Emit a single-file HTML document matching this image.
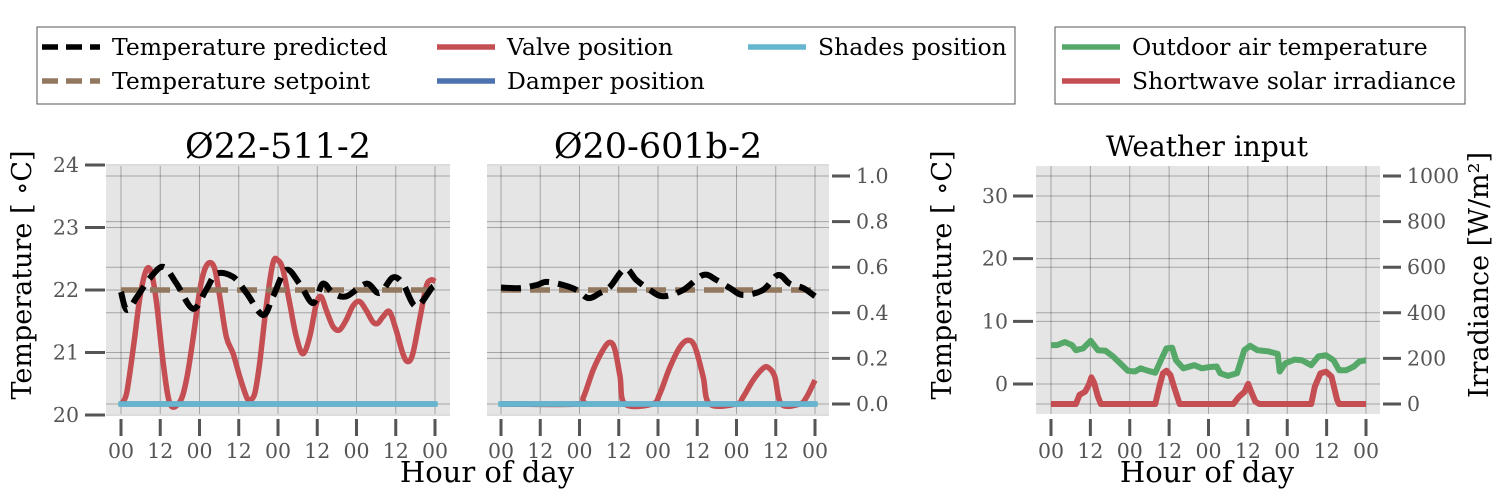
<!DOCTYPE html>
<html><head><meta charset="utf-8"><style>
html,body{margin:0;padding:0;background:#fff;}
svg{display:block;font-family:"DejaVu Serif","Liberation Serif",serif;}
</style></head><body>
<svg id="c" width="1500" height="500" xmlns="http://www.w3.org/2000/svg"></svg>
<script>
// ---- data ----
const xTickLabels=["00","12","00","12","00","12","00","12","00"];
const xTickHours=[0,12,24,36,48,60,72,84,96];
const p1TempTicks=[20,21,22,23,24];
const fracTicks=[0.0,0.2,0.4,0.6,0.8,1.0];
const wTempTicks=[0,10,20,30];
const irrTicks=[0,200,400,600,800,1000];

const p1PredHours=[0,1.8,5,9,13,17,22,26,29.2,34.3,38.4,43.4,46.5,50.5,54.6,58.7,61.7,64.8,68.9,75,79,83.1,86.2,90.2,95.3,96];
const p1PredTemp=[21.97,21.68,21.9,22.2,22.37,22.1,21.7,22.0,22.26,22.21,21.95,21.6,21.9,22.32,22.1,21.79,22.1,21.95,21.9,22.1,21.95,22.2,22.1,21.74,22.05,22.0];
const p1Setpoint=[22,22];
const p1ValveHours=[0,1.7,3.8,5.8,7.8,9.4,10.9,12.9,15,18,20,22.1,24.1,25.6,27.2,28.7,30.2,32.2,34.3,36.3,38.4,39.4,40.9,42.4,44.5,46.5,48,49.5,51.6,53.6,55.6,57.7,59.7,61.2,62.8,64.8,66.8,68.9,70.9,72.9,75,77,78.5,80.1,82.1,84.1,86.2,87.7,89.2,91.3,93.3,94.8,96.1];
const p1Valve=[0,0.047,0.25,0.47,0.59,0.57,0.44,0.18,0,0.01,0.105,0.295,0.5,0.59,0.62,0.59,0.47,0.295,0.22,0.12,0.03,0.018,0.047,0.18,0.44,0.62,0.63,0.59,0.44,0.295,0.22,0.295,0.44,0.47,0.41,0.34,0.325,0.37,0.43,0.45,0.41,0.36,0.354,0.383,0.405,0.325,0.22,0.186,0.22,0.37,0.515,0.544,0.537];

const p2PredHours=[0,5.8,10.9,13.9,19,23.1,26.7,30.2,33.3,37.9,41.4,45.5,49.6,55.7,61.8,65.9,70,74,80.1,84.7,88.3,92.4,96];
const p2PredTemp=[22.04,22.03,22.08,22.13,22.08,22.0,21.87,21.95,22.05,22.34,22.16,22.0,21.9,22.0,22.24,22.16,22.03,21.92,22.0,22.24,22.1,22.03,21.9];
const p2ValveHours=[0,23.1,25.2,28.2,31.3,33.3,34.8,36.4,37.9,46.3,48.6,51.6,54.7,57.2,59.3,61.8,63.8,72,74,77.1,80.1,81.7,83.7,85.7,91.3,93.4,96];
const p2Valve=[0,0,0.03,0.15,0.24,0.27,0.24,0.12,0,0,0.047,0.16,0.25,0.28,0.25,0.12,0,0,0.03,0.105,0.156,0.16,0.12,0,0,0.03,0.105];

const outdoorHours=[0,1.9,4.2,6.4,7.6,9.8,12.1,14.3,16.6,18.9,21.1,23.4,25.6,27.3,29.6,31.8,33.5,35.2,36.9,38.1,40.3,43.7,46,48.2,50.5,51.6,53.9,56.7,58.9,60.7,62.9,66.3,69.1,69.7,71.4,74.2,76.5,79.3,81.5,83.8,86.1,87.8,90,92.3,94,96];
const outdoorTemp=[6.2,6.2,6.7,6.2,5.4,5.7,6.9,5.4,5.3,4.4,3.3,2.1,2.0,2.5,2.1,1.8,3.8,5.7,5.8,3.8,2.5,3.0,2.5,2.7,2.8,1.7,1.3,1.7,5.4,6.1,5.4,5.2,4.8,2.0,3.3,3.9,3.8,3.0,4.4,4.6,3.8,2.2,2.2,2.8,3.6,3.8];
const solarHours=[0,7.6,8.7,10.4,11.5,12.3,13.2,14.3,15.2,31.8,33,34.1,35.2,36.4,37.5,39.2,55.6,57.3,59,60.1,61,62.3,63.5,79.3,80.4,82.1,83.8,85.5,87.2,87.8,96];
const solarIrr=[0,0,40,54,83,117,91,32,0,0,76,134,146,127,76,0,0,32,54,88,54,10,0,0,76,134,142,120,18,0,0];

// ---- drawing ----
const svg=document.getElementById('c');
const NS='http://www.w3.org/2000/svg';
function el(tag,attrs,parent){const e=document.createElementNS(NS,tag);for(const k in attrs)e.setAttribute(k,attrs[k]);(parent||svg).appendChild(e);return e;}
function txt(s,attrs,parent){const e=el('text',attrs,parent);e.textContent=s;return e;}
const TOP=166,BOT=414;
const C={red:'#c44e52',blue:'#4c72b0',cyan:'#64b5cd',green:'#55a868',brown:'#937860',tick:'#555',grid:'rgba(0,0,0,0.28)'};
function lin(d0,d1,r0,r1){return v=>r0+(v-d0)*(r1-r0)/(d1-d0);}
function poly(xs,ys,fx,fy,attrs,name,g){
  const pts=xs.map((h,i)=>fx(h).toFixed(1)+','+fy(ys[i]).toFixed(1)).join(' ');
  const p=el('polyline',Object.assign({points:pts,fill:'none','stroke-linejoin':'round'},attrs),g);
  
  
  return p;
}
function smooth(xs,ys,fx,fy,attrs,name,g){
  const P=xs.map((h,i)=>[fx(h),fy(ys[i])]);
  let d='M'+P[0][0].toFixed(1)+','+P[0][1].toFixed(1);
  for(let i=0;i<P.length-1;i++){
    const p0=P[Math.max(0,i-1)],p1=P[i],p2=P[i+1],p3=P[Math.min(P.length-1,i+2)];
    const c1=[p1[0]+(p2[0]-p0[0])/6,p1[1]+(p2[1]-p0[1])/6];
    const c2=[p2[0]-(p3[0]-p1[0])/6,p2[1]-(p3[1]-p1[1])/6];
    d+=' C'+c1[0].toFixed(1)+','+c1[1].toFixed(1)+' '+c2[0].toFixed(1)+','+c2[1].toFixed(1)+' '+p2[0].toFixed(1)+','+p2[1].toFixed(1);
  }
  const p=el('path',Object.assign({d:d,fill:'none','stroke-linejoin':'round'},attrs),g);
  
  
  return p;
}
function panel(name,x0,x1,h0px,h96px,fyL,lTicks,fyR,rTicks){
  const g=el('g',{});
  
  
  const bg=el('rect',{x:x0,y:TOP,width:x1-x0,height:BOT-TOP,fill:'#e5e5e5'},g);
  
  
  const fx=lin(0,96,h0px,h96px);
  xTickHours.forEach((h,i)=>{
    const x=fx(h);
    el('line',{x1:x,x2:x,y1:TOP,y2:BOT,stroke:C.grid,'stroke-width':1},g);
    el('line',{x1:x,x2:x,y1:419,y2:436,stroke:C.tick,'stroke-width':3},g);
    const t=txt(xTickLabels[i],{x:x,y:458,'font-size':20.5,fill:C.tick,'text-anchor':'middle'},g);
    
    
  });
  lTicks.forEach(v=>{const y=fyL(v);if(y>=TOP-1&&y<=BOT+1)el('line',{x1:x0,x2:x1,y1:y,y2:y,stroke:C.grid,'stroke-width':1},g);});
  rTicks.forEach(v=>{const y=fyR(v);el('line',{x1:x0,x2:x1,y1:y,y2:y,stroke:C.grid,'stroke-width':1},g);});
  return {g,fx};
}
// panel 1
const fyT=lin(20,24,415,165);
const fyF=lin(0,1,404,176);
let P=panel('panel-o22-511-2',106,450,121,435,fyT,p1TempTicks,fyF,fracTicks);
p1TempTicks.forEach(v=>{const y=fyT(v);el('line',{x1:85,x2:105,y1:y,y2:y,stroke:C.tick,'stroke-width':3},P.g);
  const t=txt(String(v),{x:79,y:y+7,'font-size':20.5,fill:C.tick,'text-anchor':'end'},P.g);});
smooth(p1ValveHours,p1Valve,P.fx,fyF,{stroke:C.red,'stroke-width':5.5},'valve-line-1',P.g);
poly([0,96],[0,0],P.fx,fyF,{stroke:C.blue,'stroke-width':5.5},'damper-line-1',P.g);
poly([0,96],[0,0],P.fx,fyF,{stroke:C.cyan,'stroke-width':5.5,'stroke-linecap':'square'},'shades-line-1',P.g);
poly([0,96],p1Setpoint,P.fx,fyT,{stroke:C.brown,'stroke-width':5.5,'stroke-dasharray':'20,9'},'setpoint-line-1',P.g);
smooth(p1PredHours,p1PredTemp,P.fx,fyT,{stroke:'#000','stroke-width':6,'stroke-dasharray':'20,9'},'predicted-line-1',P.g);
let t=txt('Ø22-511-2',{x:278,y:158,'font-size':35,'text-anchor':'middle',fill:'#000'});
t=txt('Temperature [ ∘C]',{x:0,y:0,'font-size':27,'text-anchor':'middle',fill:'#000',transform:'translate(31,275) rotate(-90)'});

// panel 2
P=panel('panel-o20-601b-2',487,829,501,815,fyT,p1TempTicks,fyF,fracTicks);
fracTicks.forEach(v=>{const y=fyF(v);el('line',{x1:832,x2:850,y1:y,y2:y,stroke:C.tick,'stroke-width':3},P.g);
  const t=txt(v.toFixed(1),{x:856,y:y+7,'font-size':20.5,fill:C.tick},P.g);});
smooth(p2ValveHours,p2Valve,P.fx,fyF,{stroke:C.red,'stroke-width':5.5},'valve-line-2',P.g);
poly([0,96],[0,0],P.fx,fyF,{stroke:C.blue,'stroke-width':5.5},'damper-line-2',P.g);
poly([0,96],[0,0],P.fx,fyF,{stroke:C.cyan,'stroke-width':5.5,'stroke-linecap':'square'},'shades-line-2',P.g);
poly([0,96],[22,22],P.fx,fyT,{stroke:C.brown,'stroke-width':5.5,'stroke-dasharray':'20,9'},'setpoint-line-2',P.g);
smooth(p2PredHours,p2PredTemp,P.fx,fyT,{stroke:'#000','stroke-width':6,'stroke-dasharray':'20,9'},'predicted-line-2',P.g);
t=txt('Ø20-601b-2',{x:658,y:158,'font-size':35,'text-anchor':'middle',fill:'#000'});
t=txt('Hour of day',{x:487,y:482,'font-size':29,'text-anchor':'middle',fill:'#000'});

// panel 3
const fyW=lin(0,30,384,196);
const fyI=lin(0,1000,404,176);
P=panel('panel-weather',1036,1380,1051,1366,fyW,wTempTicks,fyI,irrTicks);
wTempTicks.forEach(v=>{const y=fyW(v);el('line',{x1:1013,x2:1033,y1:y,y2:y,stroke:C.tick,'stroke-width':3},P.g);
  const t=txt(String(v),{x:1008,y:y+7,'font-size':20.5,fill:C.tick,'text-anchor':'end'},P.g);});
irrTicks.forEach(v=>{const y=fyI(v);el('line',{x1:1383,x2:1401,y1:y,y2:y,stroke:C.tick,'stroke-width':3},P.g);
  const t=txt(String(v),{x:1407,y:y+7,'font-size':20.5,fill:C.tick},P.g);});
poly(outdoorHours,outdoorTemp,P.fx,fyW,{stroke:C.green,'stroke-width':6},'outdoor-temp-line',P.g);
poly(solarHours,solarIrr,P.fx,fyI,{stroke:C.red,'stroke-width':6},'solar-irradiance-line',P.g);
t=txt('Weather input',{x:1207,y:156,'font-size':28,'text-anchor':'middle',fill:'#000'});
t=txt('Temperature [ ∘C]',{x:0,y:0,'font-size':27,'text-anchor':'middle',fill:'#000',transform:'translate(951,275) rotate(-90)'});
t=txt('Irradiance [W/m²]',{x:0,y:0,'font-size':27,'text-anchor':'middle',fill:'#000',transform:'translate(1488,275) rotate(-90)'});
t=txt('Hour of day',{x:1207,y:482,'font-size':29,'text-anchor':'middle',fill:'#000'});

// legends
function legendBox(name,x,w){const r=el('rect',{x:x,y:27,width:w,height:77,fill:'#fff',stroke:'#555','stroke-width':1});}
legendBox('legend-controls',37,978);
legendBox('legend-weather',1055,410);
const legItems=[
 ['Temperature predicted',42,47,'#000','16,8'],
 ['Temperature setpoint',42,81,C.brown,'16,8'],
 ['Valve position',437,47,C.red,''],
 ['Damper position',437,81,C.blue,''],
 ['Shades position',748,47,C.cyan,''],
 ['Outdoor air temperature',1062,47,C.green,''],
 ['Shortwave solar irradiance',1062,81,C.red,'']];
legItems.forEach(it=>{
  const g=el('g',{});
  
  
  const a={x1:it[1],x2:it[1]+58,y1:it[2],y2:it[2],stroke:it[3],'stroke-width':5.5};
  if(it[4])a['stroke-dasharray']=it[4];
  el('line',a,g);
  txt(it[0],{x:it[1]+70,y:it[2]+8,'font-size':23.5,fill:'#000'},g);
});
</script>
</body></html>
